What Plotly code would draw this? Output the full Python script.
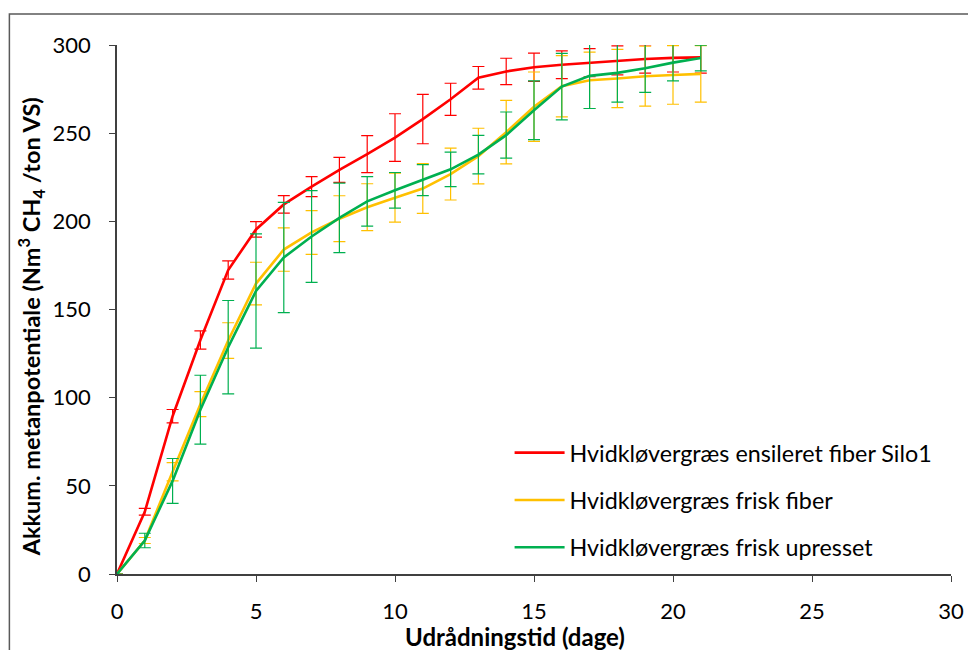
import plotly.graph_objects as go

days = list(range(0, 22))

silo_vals = [0, 35.3, 89.5, 132.7, 172.4, 195.4, 209.6, 219.7, 229.2, 238.1, 247.5, 258.0,
             269.2, 281.4, 285.0, 287.4, 288.8, 290.0, 291.3, 292.1, 292.7, 293.0]
silo_err = [0, 1.9, 3.8, 5.2, 5.2, 4.4, 5.0, 5.7, 7.1, 10.5, 13.5, 14.0,
            9.1, 6.4, 7.5, 8.0, 7.9, 8.0, 8.2, 8.0, 8.0, 9.0]

fiber_vals = [0, 19.0, 58.0, 96.3, 132.4, 164.7, 184.0, 193.7, 201.5, 208.0, 213.4, 218.6,
              226.8, 237.0, 250.6, 265.0, 276.6, 280.0, 281.0, 282.3, 283.0, 283.6]
fiber_err = [0, 1.7, 5.2, 7.1, 10.1, 12.1, 12.3, 12.4, 13.0, 13.3, 13.9, 14.1,
             14.7, 15.8, 18.0, 19.7, 17.4, 16.0, 16.5, 17.0, 16.6, 16.0]

upres_vals = [0, 19.0, 52.8, 93.2, 128.6, 160.5, 179.5, 191.4, 202.0, 211.3, 217.6, 223.4,
              229.5, 237.8, 248.9, 263.0, 276.4, 282.5, 284.2, 286.8, 290.0, 292.6]
upres_err = [0, 4.1, 12.7, 19.5, 26.5, 32.4, 31.3, 26.0, 19.7, 14.0, 10.1, 8.8,
             9.8, 10.9, 13.1, 16.7, 18.9, 18.5, 16.6, 13.7, 10.3, 7.3]

series_names = [
    "Hvidkløvergræs ensileret fiber Silo1",
    "Hvidkløvergræs frisk fiber",
    "Hvidkløvergræs frisk upresset",
]
series_colors = ["#FF0000", "#FFC000", "#00B050"]

x_ticks = [0, 5, 10, 15, 20, 25, 30]
y_ticks = [0, 50, 100, 150, 200, 250, 300]

x_title = "<b>Udrådningstid (dage)</b>"
y_title = "<b>Akkum. metanpotentiale (Nm<sup>3</sup> CH<sub>4</sub> /ton VS)</b>"

FONT = "Lato"

fig = go.Figure()
for name, vals, errs, col in zip(series_names,
                                 [silo_vals, fiber_vals, upres_vals],
                                 [silo_err, fiber_err, upres_err],
                                 series_colors):
    fig.add_trace(go.Scatter(
        x=days, y=vals, name=name, mode="lines",
        line=dict(color=col, width=2.6),
        legendgroup=name,
        error_y=dict(type="data", array=errs, visible=True,
                     color=col, thickness=1.2, width=6),
    ))

# page is offset by the body margin (8 px)
OFF = 8
W, H = 968, 642
L, R, T, B = 109, 22, 37, 76
pw, ph = W - L - R, H - T - B


def px_x(page_x):
    return (page_x - OFF - L) / pw


def px_y(page_y):
    return (H - B - (page_y - OFF)) / ph


fig.add_shape(type="rect", xref="paper", yref="paper",
              x0=(1 - L) / pw, x1=1 + (R + 50) / pw,
              y0=-(B + 50) / ph, y1=1 + (T - 6) / ph,
              line=dict(color="#595959", width=1.5), layer="below")

fig.add_annotation(text=x_title, xref="paper", yref="paper",
                   x=px_x(516.5), y=px_y(636), xanchor="center", yanchor="middle",
                   showarrow=False, font=dict(family=FONT, size=24, color="black"))
fig.add_annotation(text=y_title, xref="paper", yref="paper", textangle=-90,
                   x=px_x(31), y=px_y(327), xanchor="center", yanchor="middle",
                   showarrow=False, font=dict(family=FONT, size=23.5, color="black"))

fig.update_layout(
    width=W, height=H,
    margin=dict(l=L, r=R, t=T, b=B),
    paper_bgcolor="white", plot_bgcolor="white",
    font=dict(family=FONT, size=22, color="black"),
    showlegend=True,
    legend=dict(x=px_x(511), y=px_y(431), xanchor="left", yanchor="top",
                bgcolor="rgba(0,0,0,0)", font=dict(family=FONT, size=23.3, color="black"),
                traceorder="grouped", tracegroupgap=14, itemwidth=50),
    xaxis=dict(range=[0, 30], tickvals=x_ticks, ticktext=[str(v) for v in x_ticks],
               showgrid=False, zeroline=False, showline=True, linecolor="#404040",
               linewidth=1.5, ticks="outside", ticklen=6, tickcolor="#404040",
               ticklabelstandoff=11,
               tickfont=dict(family=FONT, size=22)),
    yaxis=dict(range=[0, 300], tickvals=y_ticks, ticktext=[str(v) for v in y_ticks],
               showgrid=False, zeroline=False, showline=True, linecolor="#404040",
               linewidth=1.5, ticks="outside", ticklen=6, tickcolor="#404040",
               ticklabelstandoff=14,
               tickfont=dict(family=FONT, size=22)),
)

fig.write_html("out.html")
